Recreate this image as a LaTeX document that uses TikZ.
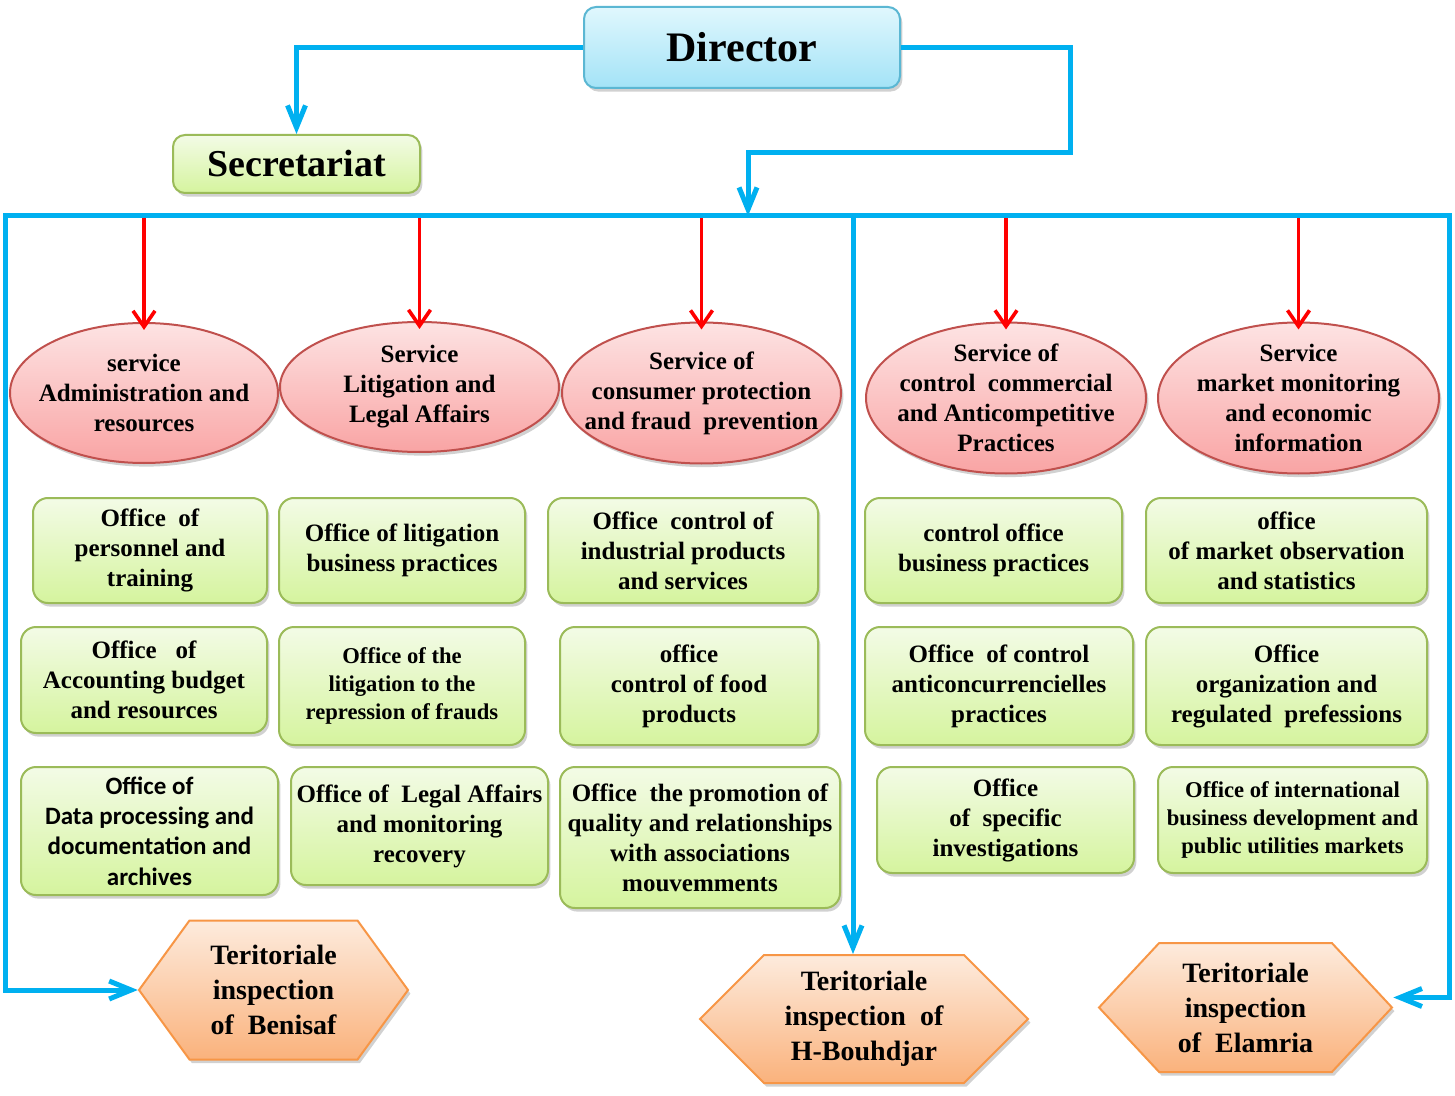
\documentclass[tikz,border=0pt]{standalone}
\usepackage{fontspec}
\setmainfont{Liberation Serif}
\newfontfamily\calibrifont{Carlito}
\usetikzlibrary{shapes.geometric,shapes.symbols,arrows.meta,shadows}

\definecolor{linkblue}{HTML}{00B0F0}
\definecolor{dirline}{HTML}{5BB7D3}
\definecolor{dirtop}{HTML}{E0F7FD}
\definecolor{dirbot}{HTML}{A3E3F7}
\definecolor{officeline}{HTML}{9BBB59}
\definecolor{officetop}{HTML}{F3FBE6}
\definecolor{officebot}{HTML}{D5F49E}
\definecolor{svcline}{HTML}{C0504D}
\definecolor{svctop}{HTML}{FDE3E3}
\definecolor{svcbot}{HTML}{F9A4A4}
\definecolor{inspline}{HTML}{F79646}
\definecolor{insptop}{HTML}{FDEBDD}
\definecolor{inspbot}{HTML}{FAB27C}

\tikzset{
  softshadow/.style={drop shadow={shadow xshift=1.2pt,shadow yshift=-1.8pt,opacity=.3,fill=black!60}},
}

\begin{document}
\begin{tikzpicture}[x=0.5pt,y=-0.5pt,
    director/.style={draw=dirline,line width=1pt,rounded corners=6pt,top color=dirtop,bottom color=dirbot,
      inner sep=0pt,softshadow,font=\bfseries\fontsize{21}{25}\selectfont},
    office/.style={draw=officeline,line width=1pt,rounded corners=7.5pt,top color=officetop,bottom color=officebot,
      inner sep=0pt,align=center,softshadow,font=\bfseries\fontsize{12.5}{15}\selectfont},
    smalloffice/.style={office,font=\bfseries\fontsize{11.3}{13.9}\selectfont},
    service/.style={ellipse,draw=svcline,line width=1pt,top color=svctop,bottom color=svcbot,
      inner xsep=-14pt,inner ysep=-8pt,align=center,softshadow,font=\bfseries\fontsize{12.5}{15}\selectfont},
    inspection/.style={signal,signal to=east and west,draw=inspline,line width=1pt,top color=insptop,bottom color=inspbot,
      inner sep=0pt,align=center,softshadow,font=\bfseries\fontsize{14}{17.5}\selectfont},
    link/.style={draw=linkblue,line width=2.5pt,-{Straight Barb[length=11pt,width=9pt,line width=2.5pt]}},
    bus/.style={draw=linkblue,line width=2.5pt,line cap=rect},
    order/.style={draw=red,line width=1.8pt,-{Straight Barb[length=8pt,width=11pt,line width=1.8pt]}}]

  \useasboundingbox (0,0) rectangle (1455,1096);

  % top
  \node[director,minimum width=158pt,minimum height=40.5pt] (dir) at (742,47.5) {Director};
  \node[office,rounded corners=6pt,font=\bfseries\fontsize{19}{23}\selectfont,minimum width=123.5pt,minimum height=29pt] (sec) at (296.5,164) {Secretariat};

  \coordinate (dturn) at (1070,153);
  \coordinate (hub) at (748,216);
  \coordinate (busl) at (5,216);
  \coordinate (busr) at (1449,216);
  \coordinate (busm) at (853,216);

  % services
  \node[service,minimum width=134pt,minimum height=70pt] (svcadm) at (144,393) {service\\Administration and\\resources};
  \node[service,minimum width=139.5pt,minimum height=65pt] (svclit) at (419.5,387) {Service\\Litigation and\\Legal Affairs};
  \node[service,minimum width=139.5pt,minimum height=70.5pt] (svccons) at (701.5,393) {Service of\\consumer protection\\and fraud \ prevention};
  \node[service,minimum width=140pt,minimum height=75.5pt] (svcctrl) at (1006,398) {Service of\\control \ commercial\\and Anticompetitive\\Practices};
  \node[service,minimum width=140.5pt,minimum height=75.5pt] (svcmkt) at (1298.5,398) {Service\\market monitoring\\and economic\\information};

  % offices, row 1
  \node[office,minimum width=117pt,minimum height=52.5pt] (offpers) at (150,550.5) {Office \ of\\personnel and\\training};
  \node[office,minimum width=123pt,minimum height=52.5pt] (offlit) at (402,550.5) {Office of litigation\\business practices};
  \node[office,minimum width=135pt,minimum height=52.5pt] (offind) at (683,550.5) {Office \ control of\\industrial products\\and services};
  \node[office,minimum width=128.5pt,minimum height=52.5pt] (offbus) at (993.5,550.5) {control office\\business practices};
  \node[office,minimum width=140.5pt,minimum height=52.5pt] (offobs) at (1286.5,550.5) {office\\of market observation\\and statistics};

  % offices, row 2
  \node[office,minimum width=123pt,minimum height=53pt] (offacc) at (144,680) {Office \ \ of\\Accounting budget\\and resources};
  \node[smalloffice,minimum width=123pt,minimum height=59pt] (offrep) at (402,686) {Office of the\\litigation to the\\repression of frauds};
  \node[office,minimum width=129pt,minimum height=59pt] (offfood) at (689,686) {office\\control of food\\products};
  \node[office,minimum width=134pt,minimum height=59pt] (offanti) at (999,686) {Office \ of control\\anticoncurrencielles\\practices};
  \node[office,minimum width=140.5pt,minimum height=59pt] (offreg) at (1286.5,686) {Office\\organization and\\regulated \ prefessions};

  % offices, row 3
  \node[office,font=\calibrifont\bfseries\fontsize{12.5}{15.2}\selectfont,minimum width=128.5pt,minimum height=64pt] (offdata) at (149.5,831) {Office of\\Data processing and\\documentation and\\archives};
  \node[office,minimum width=128.5pt,minimum height=59pt] (offlegal) at (419.5,826) {Office of \ Legal Affairs\\and monitoring\\recovery};
  \node[office,minimum width=140pt,minimum height=70.5pt] (offqual) at (700,837.5) {Office \ the promotion of\\quality and relationships\\with associations\\mouvemments};
  \node[office,minimum width=128.5pt,minimum height=53pt] (offinv) at (1005.5,820) {Office\\of \ specific\\investigations};
  \node[smalloffice,minimum width=134.5pt,minimum height=53pt] (offint) at (1292.5,820) {Office of international\\business development and\\public utilities markets};

  % inspections
  \node[inspection,signal pointer angle=108,minimum width=134.5pt,minimum height=69.5pt] (insben) at (273.5,990) {Teritoriale\\inspection\\of \ Benisaf};
  \node[inspection,signal pointer angle=90,minimum width=164pt,minimum height=64pt] (insbou) at (864,1019) {Teritoriale\\inspection \ of\\H-Bouhdjar};
  \node[inspection,signal pointer angle=94,minimum width=146.5pt,minimum height=64.5pt] (insela) at (1245.5,1007.5) {Teritoriale\\inspection\\of \ Elamria};

  % connectors
  \foreach \s in {svcadm,svclit,svccons,svcctrl,svcmkt}
    \draw[order] (\s.north |- busl) -- ([yshift=-4pt]\s.north);

  \draw[link] (dir.west) -| (sec.north);
  \draw[link] (dir.east) -| (dturn) -| (hub);
  \draw[link] (busr) -- (busl) |- (insben.west);
  \draw[link] (busm) -- (busm |- insbou.north);
  \draw[link] (busr) |- ([yshift=5pt]insela.east);
  \draw[bus] (busl) -- (busr);
\end{tikzpicture}
\end{document}
